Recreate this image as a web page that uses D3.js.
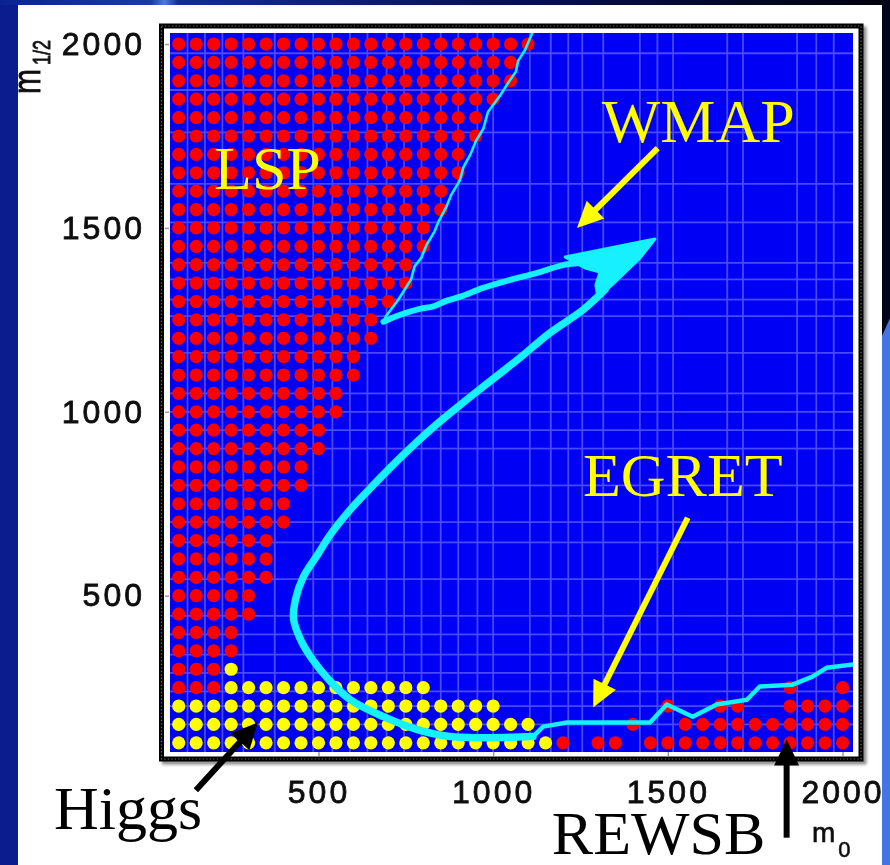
<!DOCTYPE html>
<html>
<head>
<meta charset="utf-8">
<script src="https://cdn.jsdelivr.net/npm/d3@7"></script>
<style>
  html, body { margin: 0; padding: 0; background: #fff; }
  svg { display: block; }
</style>
</head>
<body>
<div id="chart"></div>
<script>
// Scan of the (m0, m1/2) plane, 50 GeV steps
//=====================================================================
var scanStart = 100;
var scanStep = 50;

// LSP excluded points: each m12 row is filled from m0 = 100 up to the value below
var lspM12 = [2000, 1950, 1900, 1850, 1800, 1750, 1700, 1650, 1600, 1550,
              1500, 1450, 1400, 1350, 1300, 1250, 1200, 1150, 1100, 1050,
              1000, 950, 900, 850, 800, 750, 700, 650, 600, 550,
              500, 450, 400, 350, 300, 250];
var lspMaxM0 = [1100, 1050, 1050, 1000, 950, 950, 900, 900, 850, 850,
                800, 800, 750, 750, 700, 650, 650, 600, 600, 550,
                550, 500, 500, 450, 450, 400, 400, 350, 350, 350,
                300, 300, 250, 250, 200, 200];

// Higgs excluded points
var higgsM12 = [300, 250, 200, 150, 100];
var higgsMinM0 = [250, 250, 100, 100, 100];
var higgsMaxM0 = [250, 800, 1000, 1100, 1150];

// REWSB excluded points
var rewsbM12 = [100, 150, 200, 250];
var rewsbM0 = [
    [1200, 1300, 1350, 1450, 1500, 1550, 1600, 1650, 1700, 1750, 1800, 1850, 1900, 1950, 2000],
    [1400, 1550, 1600, 1650, 1700, 1750, 1800, 1850, 1900, 1950, 2000],
    [1500, 1650, 1700, 1850, 1900, 1950, 2000],
    [1850, 2000]
];

// WMAP allowed strip, [m0, m12]
var wmapEdge = [[1112, 2030], [1092, 1985], [1072, 1955], [1065, 1925], [1040, 1890],
                [1020, 1860], [985, 1815], [972, 1770], [950, 1735], [935, 1700],
                [915, 1665], [905, 1630], [880, 1590], [865, 1555], [845, 1520],
                [832, 1490], [810, 1455], [795, 1420], [775, 1395], [765, 1360],
                [742, 1325], [725, 1300], [705, 1275], [693, 1260], [686, 1245]];
var wmapUpper = [[686, 1245], [734, 1264], [790, 1280], [829, 1287], [870, 1303], [906, 1313],
                 [971, 1337], [1049, 1359], [1126, 1378], [1200, 1399], [1257, 1405], [1300, 1412]];
var wmapTip = [[1206, 1421], [1463, 1470], [1420, 1418], [1349, 1353], [1300, 1310],
               [1294, 1345], [1306, 1380], [1263, 1391]];
var wmapLower = [[1320, 1332], [1257, 1277], [1163, 1215], [1069, 1141], [971, 1068],
                 [906, 1019], [820, 951], [734, 875], [649, 793], [591, 734],
                 [534, 666], [497, 611], [457, 552], [434, 489], [429, 435],
                 [449, 380], [483, 326], [529, 272], [591, 217], [686, 171],
                 [783, 136], [877, 117], [971, 114], [1114, 117]];
var wmapTail = [[1114, 117], [1143, 144], [1211, 155], [1449, 155], [1497, 204],
                [1571, 171], [1640, 204], [1726, 217], [1763, 253], [1857, 258],
                [1914, 280], [1954, 304], [2030, 313]];

// Light mesh lines of the plot
var gridM0 = [125, 175, 225, 285, 375, 485, 540, 590, 640, 695, 745, 795, 850, 900,
              955, 1000, 1105, 1165, 1215, 1255, 1315, 1420, 1470, 1515, 1670, 1715,
              1870, 1925, 1975];
var gridM12 = [1975, 1875, 1760, 1620, 1515, 1405, 1360, 1305, 1260, 1160, 1050, 1000,
               950, 900, 800, 700, 645, 545, 445, 395, 340, 290, 240, 200, 150];

var xTicks = [500, 1000, 1500, 2000];
var yTicks = [500, 1000, 1500, 2000];

// Labels and arrows, [m0, m12]
var labels = [
    {text: "LSP", m0: 201, m12: 1606, color: "#ffff00"},
    {text: "WMAP", m0: 1311, m12: 1733, color: "#ffff00"},
    {text: "EGRET", m0: 1257, m12: 771, color: "#ffff00"},
    {text: "Higgs", m0: -257, m12: -134, color: "#000"},
    {text: "REWSB", m0: 1168, m12: -203, color: "#000"}
];
var arrows = [
    {from: [1471, 1717], to: [1240, 1500], color: "#ffff00"},
    {from: [1557, 712], to: [1286, 196], color: "#ffff00"},
    {from: [149, -29], to: [326, 155], color: "#000"},
    {from: [1840, -158], to: [1840, 109], color: "#000"}
];

// Set up the page
//=====================================================================
var svgWidth = 890;
var svgHeight = 865;
var plotLeft = 170, plotRight = 853, plotTop = 33, plotBottom = 752;

var svg = d3.select("#chart")
    .append("svg")
    .attr("width", svgWidth)
    .attr("height", svgHeight);

var defs = svg.append("defs");
var topGrad = defs.append("linearGradient").attr("id", "topGrad");
[["0%", "#0b2292"], ["17%", "#1a3aa8"], ["18.5%", "#4f78e0"], ["20%", "#142c96"],
 ["55%", "#071254"], ["100%", "#00020e"]].forEach(function (s) {
    topGrad.append("stop").attr("offset", s[0]).attr("stop-color", s[1]);
});
defs.append("filter").attr("id", "shadowBlur")
    .append("feGaussianBlur").attr("stdDeviation", 1.6);
defs.append("filter").attr("id", "soft")
    .append("feGaussianBlur").attr("stdDeviation", 0.6);
defs.append("filter").attr("id", "softText")
    .append("feGaussianBlur").attr("stdDeviation", 0.45);
defs.append("clipPath").attr("id", "plotClip")
    .append("rect")
    .attr("x", plotLeft).attr("y", plotTop)
    .attr("width", plotRight - plotLeft).attr("height", plotBottom - plotTop);

// slide background
svg.append("rect").attr("width", svgWidth).attr("height", svgHeight).attr("fill", "#fff");
svg.append("rect").attr("width", 18).attr("height", svgHeight).attr("fill", "#0a1c8e");
svg.append("rect").attr("width", svgWidth).attr("height", 5).attr("fill", "url(#topGrad)");

// Scales
//=====================================================================
var xScale = d3.scaleLinear().domain([75, 2030]).range([plotLeft, plotRight]);
var yScale = d3.scaleLinear().domain([75, 2030]).range([plotBottom, plotTop]);

// frame with shadow
svg.append("rect")
    .attr("x", 164.5).attr("y", 29).attr("width", 699.5).attr("height", 733)
    .attr("fill", "none").attr("stroke", "#8c8c8c").attr("stroke-width", 5)
    .attr("filter", "url(#shadowBlur)");
svg.append("rect")
    .attr("x", 161.5).attr("y", 26).attr("width", 699.5).attr("height", 733)
    .attr("fill", "#fff").attr("stroke", "#000").attr("stroke-width", 5);
svg.append("rect")
    .attr("x", 161.5).attr("y", 26).attr("width", 699.5).attr("height", 733)
    .attr("fill", "none").attr("stroke", "#9a9a9a").attr("stroke-width", 1.2)
    .attr("stroke-dasharray", "1.2 2.3").attr("opacity", 0.7);

// Plot area
//=====================================================================
var plot = svg.append("g").attr("filter", "url(#soft)");

plot.append("rect")
    .attr("x", plotLeft).attr("y", plotTop)
    .attr("width", plotRight - plotLeft).attr("height", plotBottom - plotTop)
    .attr("fill", "#0000f4");

var grid = plot.append("g").attr("clip-path", "url(#plotClip)")
    .attr("stroke", "#4848ff").attr("stroke-width", 1.8);
grid.selectAll(".vgrid").data(gridM0).enter().append("line")
    .attr("x1", d => xScale(d)).attr("x2", d => xScale(d))
    .attr("y1", plotTop).attr("y2", plotBottom);
grid.selectAll(".hgrid").data(gridM12).enter().append("line")
    .attr("y1", d => yScale(d)).attr("y2", d => yScale(d))
    .attr("x1", plotLeft).attr("x2", plotRight);

// build the scan points
var redPoints = [];
lspM12.forEach(function (m12, i) {
    for (var m0 = scanStart; m0 <= lspMaxM0[i]; m0 += scanStep) {
        redPoints.push({m0: m0, m12: m12});
    }
});
rewsbM12.forEach(function (m12, i) {
    rewsbM0[i].forEach(function (m0) { redPoints.push({m0: m0, m12: m12}); });
});
var yellowPoints = [];
higgsM12.forEach(function (m12, i) {
    for (var m0 = higgsMinM0[i]; m0 <= higgsMaxM0[i]; m0 += scanStep) {
        yellowPoints.push({m0: m0, m12: m12});
    }
});

plot.append("g").selectAll("circle")
    .data(redPoints).enter().append("circle")
    .attr("cx", d => xScale(d.m0)).attr("cy", d => yScale(d.m12))
    .attr("r", 6.6).attr("fill", "#ff0000");
plot.append("g").selectAll("circle")
    .data(yellowPoints).enter().append("circle")
    .attr("cx", d => xScale(d.m0)).attr("cy", d => yScale(d.m12))
    .attr("r", 6.6).attr("fill", "#ffff00");

// WMAP strip
var line = d3.line().x(d => xScale(d[0])).y(d => yScale(d[1]));
var wmap = plot.append("g").attr("clip-path", "url(#plotClip)")
    .attr("fill", "none").attr("stroke", "#12f0ff")
    .attr("stroke-linejoin", "round").attr("stroke-linecap", "round");
wmap.append("path").attr("d", line.curve(d3.curveLinear)(wmapEdge)).attr("stroke-width", 2.6);
wmap.append("path").attr("d", line.curve(d3.curveCatmullRom)(wmapUpper)).attr("stroke-width", 6);
wmap.append("path").attr("d", line.curve(d3.curveLinearClosed)(wmapTip))
    .attr("fill", "#12f0ff").attr("stroke-width", 3);
wmap.append("path").attr("d", line.curve(d3.curveCatmullRom)(wmapLower)).attr("stroke-width", 7.5);
wmap.append("path").attr("d", line.curve(d3.curveLinear)(wmapTail)).attr("stroke-width", 4.5);

// Axes
//=====================================================================
var bottomAxis = d3.axisBottom(xScale).tickValues(xTicks).tickFormat(d3.format("d"))
    .tickSizeInner(-4).tickSizeOuter(0).tickPadding(24);
var leftAxis = d3.axisLeft(yScale).tickValues(yTicks).tickFormat(d3.format("d"))
    .tickSizeInner(-4).tickSizeOuter(0).tickPadding(20);

var xAxisG = svg.append("g")
    .attr("transform", `translate(0, ${plotBottom + 4})`)
    .call(bottomAxis);
var yAxisG = svg.append("g")
    .attr("transform", `translate(${plotLeft - 5}, 0)`)
    .call(leftAxis);

[xAxisG, yAxisG].forEach(function (g) {
    g.select(".domain").remove();
    g.selectAll(".tick line").attr("stroke", "#9a9a9a").attr("stroke-width", 1.5);
    g.selectAll(".tick text")
        .attr("fill", "#111")
        .attr("stroke", "#111").attr("stroke-width", 0.8)
        .attr("filter", "url(#softText)")
        .style("font-family", "'Liberation Sans', Arial, sans-serif")
        .style("font-size", "32px")
        .style("letter-spacing", "3px");
});

// axis titles
var xTitle = svg.append("text")
    .attr("x", 812).attr("y", 842)
    .attr("stroke", "#111").attr("stroke-width", 0.6)
    .attr("filter", "url(#softText)")
    .style("font-family", "'Liberation Sans', Arial, sans-serif")
    .style("font-size", "28px").attr("fill", "#111");
xTitle.append("tspan").text("m");
xTitle.append("tspan").attr("dx", 3).attr("dy", 15).style("font-size", "22px").text("0");

var yTitle = svg.append("text")
    .attr("transform", "translate(40, 94) rotate(-90) scale(1, 1.3)")
    .attr("stroke", "#111").attr("stroke-width", 0.6)
    .attr("filter", "url(#softText)")
    .style("font-family", "'Liberation Sans', Arial, sans-serif")
    .style("font-size", "30px").attr("fill", "#111");
yTitle.append("tspan").text("m");
yTitle.append("tspan").attr("dx", 4).attr("dy", 8).style("font-size", "18px").text("1/2");

// Annotations
//=====================================================================
svg.append("g").selectAll("text")
    .data(labels).enter().append("text")
    .attr("x", d => xScale(d.m0)).attr("y", d => yScale(d.m12))
    .attr("fill", d => d.color)
    .style("font-family", "'Liberation Serif', 'Times New Roman', serif")
    .style("font-size", "62px")
    .text(d => d.text);

var headLen = 26, headHalf = 12.5;
arrows.forEach(function (a) {
    var sx = xScale(a.from[0]), sy = yScale(a.from[1]);
    var tx = xScale(a.to[0]), ty = yScale(a.to[1]);
    var len = Math.hypot(tx - sx, ty - sy);
    var ux = (tx - sx) / len, uy = (ty - sy) / len;
    var bx = tx - ux * headLen, by = ty - uy * headLen;
    svg.append("line")
        .attr("x1", sx).attr("y1", sy).attr("x2", bx + ux * 2).attr("y2", by + uy * 2)
        .attr("stroke", a.color).attr("stroke-width", 6);
    svg.append("path")
        .attr("d", d3.line()([[tx, ty], [bx - uy * headHalf, by + ux * headHalf], [bx + uy * headHalf, by - ux * headHalf]]) + "Z")
        .attr("fill", a.color);
});

// right edge of the slide
svg.append("rect").attr("x", 882).attr("y", 0).attr("width", 8).attr("height", svgHeight).attr("fill", "#4475e6");
svg.append("path").attr("d", "M882,0 L890,0 L890,318 L882,336 Z").attr("fill", "#010718");
</script>
</body>
</html>
